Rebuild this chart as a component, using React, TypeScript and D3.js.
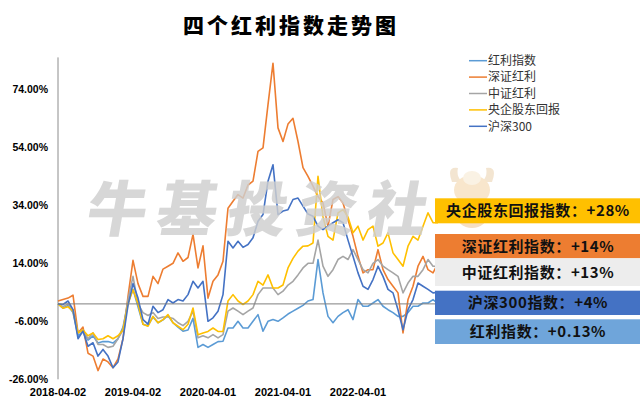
import { useEffect, useRef } from 'react';
import * as d3 from 'd3';

// sample points, roughly every 1/15 year from 2018-04-02
const hongli = [0, -1.5, -0.5, -3, -11, -9.5, -12.5, -11, -13.5, -13, -13, -13.5, -12, -8, 0.5, 5, -1, -7, -7.5, -4.5, -6.5, -5.5, -4, -6.5, -8, -9.4, -9, -5, -15, -14, -15, -14, -13, -12.9, -8.3, -8.3, -6, -8.3, -8.3, -6, -3.7, -9.4, -6, -5.4, -6, -4.8, -3.5, -2.5, -1.5, -0.5, 1, 1.5, 15.3, 3.8, -4.3, -6.5, -4.3, -3, -2, -5.4, 1.5, -0.8, -0.8, 0.3, 1.5, -0.8, -2, -3, -4.3, -4.3, -3, -0.8, -0.8, 0.3, 0.3, 1.5, 0.1];
const shenzheng = [1, 1.5, 2, 3, -10, -8, -17, -18, -23, -19, -20, -22, -19, -12, 2.6, 15, 7, 2.6, 2.6, 9.5, 7, 12, 13, 14, 17.6, 14.7, 16, 24, 12.4, 20, 2, 7.8, 10, 14.7, 33, 35.4, 37.7, 36.5, 41, 42.3, 52.6, 53.8, 68.7, 83, 60.7, 56, 62, 64, 56, 47, 44, 40.6, 37, 34.8, 26.8, 36, 37, 34.8, 29, 23.3, 16.4, 10.7, 11.8, 11.8, 18.7, 11.8, 8.4, 6.1, 3.8, -10, 1.5, 6.1, 13, 16.4, 11.8, 10.7, 14];
const zhongzheng = [0, -1, 0, -2, -10, -9, -12, -10, -14, -14, -15, -14.6, -12, -9, 1.5, 9.5, 0, -3, -4, -3, -5, -4.5, -4.5, -5, -6.5, -7.5, -6, -2.5, -11.7, -11, -11.7, -10.6, -11.7, -10.6, -2.5, -1.4, -2.5, -3.7, -2.5, -1.4, 3.2, 5.5, 5.5, 5.5, 3.2, 4.4, 6.5, 7.8, 10, 12.4, 14, 14, 22, 13, 9.5, 11.8, 15.3, 16.4, 15.3, 18.7, 15.3, 11.8, 10.7, 14, 15.3, 13, 11.8, 10.7, 9.5, 3.8, 7.2, 9.5, 9.5, 11.8, 15.3, 13, 13];
const yangqi = [0, -1.5, -1, -2.5, -10, -9, -11, -10, -12.3, -12, -11, -12, -11, -9, 0, 5, 0, -7, -7.7, -4.3, -6.5, -5.4, -3.7, -6.5, -7.7, -8.9, -7, -1.4, -10.6, -10, -9.5, -8.3, -9.5, -9.5, 1, 3.2, 1, -0.2, 1, 3.2, 7.8, 6.5, 10, 5.5, 5.5, 6.5, 12.4, 15.7, 18.2, 19.9, 20, 21, 44, 30, 23.3, 22, 31.4, 32.5, 30, 24.5, 26.8, 22, 25.6, 26.8, 19.9, 21, 24.5, 17.6, 15.3, 13, 19.9, 23.3, 22, 26.8, 31.4, 28, 28];
const hs300 = [0, -0.2, 1, -2, -12, -9.4, -14.6, -13.4, -18, -15.7, -18, -22, -20, -12, -0.5, 7, 2, -5.4, -7, -0.8, -3, -2, 1.5, 0.3, 1.5, 1, 3.2, 7.8, 5.5, 7.8, -6, -4.8, -2.5, 3.2, 21.6, 19.3, 21.6, 19.5, 20.5, 22.8, 28.5, 30.8, 42.3, 48, 30.8, 32, 32.5, 36, 36.5, 33.7, 31, 30.2, 26.8, 25.6, 26.8, 28, 29, 28, 22, 16.4, 10.7, 6.1, 5, 8.4, 13, 9.5, 5, 3.8, -2, -8.9, -2, 1.5, 7.2, 6.1, 5, 3.8, 4];

const seriesNames = ['红利指数', '深证红利', '中证红利', '央企股东回报', '沪深300'];
const seriesColors = ['#5B9BD5', '#ED7D31', '#A5A5A5', '#FFC000', '#4472C4'];

const xTickIdx = [0, 15, 30, 45, 60];
const xTickLabels = ['2018-04-02', '2019-04-02', '2020-04-01', '2021-04-01', '2022-04-01'];
const yTicks = [-26, -6, 14, 34, 54, 74];

const badgeTexts = ['央企股东回报指数：+28%', '深证红利指数：+14%', '中证红利指数：+13%', '沪深300指数：+4%', '红利指数：+0.13%'];
const badgeColors = ['#FFC000', '#ED7D31', '#EDEDED', '#4472C4', '#6FA5DA'];

export default function App() {
    const svgRef = useRef<SVGSVGElement>(null);

    useEffect(() => {
        if (!svgRef.current) return;
        const width = 640;
        const height = 405;
        const svg = d3.select(svgRef.current);
        svg.selectAll('*').remove();
        svg.attr('width', width).attr('height', height);

        const cjk = '"Noto Sans CJK SC", sans-serif';
        const latin = '"Liberation Sans", Arial, sans-serif';

        svg.append('rect').attr('width', width).attr('height', height).attr('fill', '#fff');

        const data = [hongli, shenzheng, zhongzheng, yangqi, hs300];
        const n = hongli.length;

        const x = d3.scaleLinear().domain([0, n - 1]).range([58, 438]);
        const y = d3.scaleLinear().domain([-26, 85]).range([379.3, 57.4]);

        // title
        svg.append('text')
            .attr('x', 291).attr('y', 33)
            .attr('text-anchor', 'middle')
            .style('font-family', cjk)
            .style('font-weight', 900)
            .style('font-size', '21px')
            .style('letter-spacing', '3px')
            .text('四个红利指数走势图');

        // axes
        svg.append('line')
            .attr('x1', x(0)).attr('x2', x(0))
            .attr('y1', y(85)).attr('y2', y(-26))
            .attr('stroke', '#8c8c8c').attr('stroke-width', 1);

        svg.append('g')
            .selectAll('text')
            .data(yTicks)
            .join('text')
            .attr('x', 48).attr('y', d => y(d) + 4)
            .attr('text-anchor', 'end')
            .style('font-family', latin)
            .style('font-weight', 'bold')
            .style('font-size', '10.5px')
            .text(d => `${d.toFixed(2)}%`);

        svg.append('g')
            .selectAll('text')
            .data(xTickIdx)
            .join('text')
            .attr('x', d => x(d)).attr('y', 396)
            .attr('text-anchor', 'middle')
            .style('font-family', latin)
            .style('font-weight', 'bold')
            .style('font-size', '11px')
            .text((d, i) => xTickLabels[i]);

        // lines
        const line = d3.line<number>()
            .x((d, i) => x(i))
            .y(d => y(d));

        svg.append('g')
            .selectAll('path')
            .data(data)
            .join('path')
            .attr('d', d => line(d))
            .attr('fill', 'none')
            .attr('stroke', (d, i) => seriesColors[i])
            .attr('stroke-width', 1.6)
            .attr('stroke-linejoin', 'round');

        // zero line
        svg.append('line')
            .attr('x1', x(0)).attr('x2', 440)
            .attr('y1', y(0)).attr('y2', y(0))
            .attr('stroke', '#7f7f7f').attr('stroke-width', 1);

        // watermark
        const wm = svg.append('g').attr('opacity', 0.82);
        wm.append('text')
            .attr('transform', 'translate(84,231) skewX(-10)')
            .attr('fill', '#cfcfcf')
            .style('font-family', cjk)
            .style('font-weight', 900)
            .style('font-size', '60px')
            .style('letter-spacing', '10px')
            .text('牛基投资社');

        // bull mascot, faint
        const bull = svg.append('g').attr('opacity', 0.45);
        bull.append('path').attr('d', 'M452,182 Q446,166 458,168 Q456,176 462,182 Z').attr('fill', '#e6c79a');
        bull.append('path').attr('d', 'M492,182 Q498,166 486,168 Q488,176 482,182 Z').attr('fill', '#e6c79a');
        bull.append('ellipse').attr('cx', 472).attr('cy', 190).attr('rx', 18).attr('ry', 15).attr('fill', '#f0c98f');
        bull.append('ellipse').attr('cx', 472).attr('cy', 178).attr('rx', 9).attr('ry', 7).attr('fill', '#f6e3c4');
        bull.append('ellipse').attr('cx', 472).attr('cy', 214).attr('rx', 16).attr('ry', 14).attr('fill', '#e9b77a');

        // badges
        const badgeTop = [198.3, 234, 258.3, 290.7, 319.3];
        const badgeBottom = [223.3, 258.3, 286, 315, 344];
        const badges = svg.append('g')
            .selectAll('g')
            .data(badgeTexts)
            .join('g');
        badges.append('rect')
            .attr('x', 435).attr('y', (d, i) => badgeTop[i])
            .attr('width', 205).attr('height', (d, i) => badgeBottom[i] - badgeTop[i])
            .attr('fill', (d, i) => badgeColors[i]);
        badges.append('text')
            .attr('x', 538).attr('y', (d, i) => (badgeTop[i] + badgeBottom[i]) / 2 + 5.5)
            .attr('text-anchor', 'middle')
            .style('font-family', cjk)
            .style('font-weight', 'bold')
            .style('font-size', '15px')
            .style('letter-spacing', '0.6px')
            .attr('fill', '#111')
            .text(d => d);

        // legend
        const legend = svg.append('g')
            .selectAll('g')
            .data(seriesNames)
            .join('g')
            .attr('transform', (d, i) => `translate(469,${60.7 + i * 16.4})`);
        legend.append('line')
            .attr('x1', 0).attr('x2', 18)
            .attr('stroke', (d, i) => seriesColors[i])
            .attr('stroke-width', 1.5);
        legend.append('text')
            .attr('x', 19).attr('y', 4.2)
            .style('font-family', cjk)
            .style('font-size', '12px')
            .attr('fill', '#333')
            .text(d => d);
    }, []);

    return <svg ref={svgRef} style={{ position: 'absolute', left: 0, top: 0, display: 'block' }} />;
}
